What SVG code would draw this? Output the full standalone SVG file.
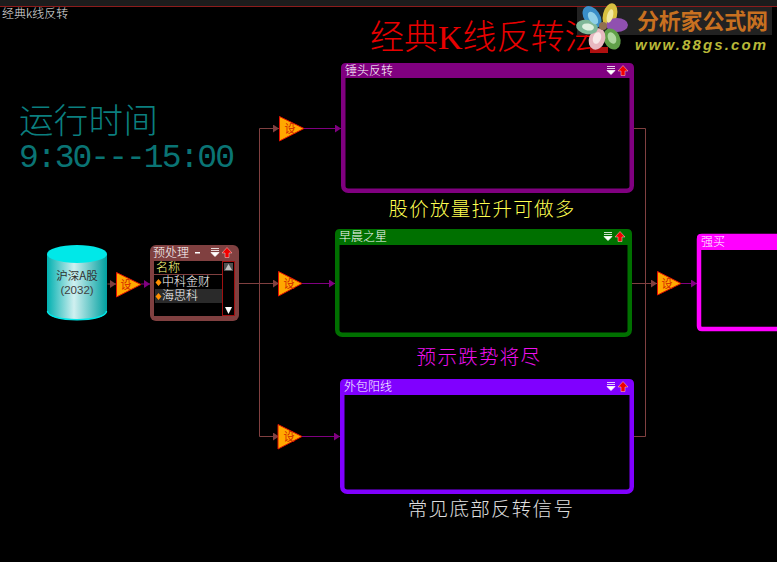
<svg xmlns="http://www.w3.org/2000/svg" width="777" height="562" viewBox="0 0 777 562">
<style>
text{font-family:"Noto Sans CJK SC","Liberation Sans",sans-serif}
.hd{font-size:12px;fill:#fff;font-weight:300}
.tri{fill:#ffa800;stroke:#e01000;stroke-width:1}
.s{font-size:11px;fill:#d02000;text-anchor:middle}
.cap{font-size:19.500px;letter-spacing:1.300px;text-anchor:middle;font-weight:300}
.br{stroke:#804040;fill:none}
.pu{stroke:#800080;fill:none}
.li{font-size:12px;fill:#fff;font-weight:300}
</style>
<defs>
<linearGradient id="cyl" x1="0" x2="1" y1="0" y2="0"><stop offset="0" stop-color="#00b0b0"/><stop offset=".45" stop-color="#d0f0f0"/><stop offset="1" stop-color="#00a0a0"/></linearGradient>
<marker id="ab" markerWidth="6" markerHeight="8" refX="6" refY="4" orient="auto" markerUnits="userSpaceOnUse"><path d="M0 0L6 4L0 8Z" fill="#804040"/></marker>
<marker id="ap" markerWidth="6" markerHeight="8" refX="6" refY="4" orient="auto" markerUnits="userSpaceOnUse"><path d="M0 0L6 4L0 8Z" fill="#800080"/></marker>
<g id="icons"><path d="M-4 -4.500H4M-4 -2.500H4M-4 -0.500H4L0 3.500Z" fill="#fff" stroke="#fff" stroke-width=".8"/><path d="M12 -5.500L17 0H14V4.500H10V0H7Z" fill="#f00000" stroke="#ffd0d0" stroke-width=".5"/></g>
</defs>
<rect width="777" height="562" fill="#000"/>
<rect width="777" height="6" fill="#1c1c1c"/>
<rect y="6" width="777" height="1" fill="#8c1c1c"/>
<text x="2" y="18" font-size="12" fill="#e0e0e0" font-weight="300">经典k线反转</text>
<text x="370" y="49" font-size="34" fill="#e80000" font-weight="300">经典<tspan style="font-family:'Liberation Serif',serif">K</tspan>线反转法</text>
<text x="19" y="133" font-size="34.500" fill="#0b7f7f" font-weight="300" letter-spacing=".3">运行时间</text>
<text x="19" y="167" font-size="33" fill="#0a7474" style="font-family:'Liberation Mono',monospace" textLength="216">9:30---15:00</text>

<g id="connectors">
<path class="br" d="M107.500 284H116" marker-end="url(#ab)"/>
<path class="pu" d="M141 284H150" marker-end="url(#ap)"/>
<path class="br" d="M239 283.500H279" marker-end="url(#ab)"/>
<path class="br" d="M259.500 436.500V128.500H279" marker-end="url(#ab)"/>
<path class="br" d="M259.500 436.500H279" marker-end="url(#ab)"/>
<path class="pu" d="M303 128.500H341" marker-end="url(#ap)"/>
<path class="pu" d="M302 283.500H335" marker-end="url(#ap)"/>
<path class="pu" d="M302 436.500H340" marker-end="url(#ap)"/>
<path class="br" d="M634 128.500H645.500V436.500H634"/>
<path class="br" d="M632 283.500H657" marker-end="url(#ab)"/>
<path class="pu" d="M681 283.500H697" marker-end="url(#ap)"/>
</g>

<g id="db">
<path d="M47 254V311C47 323 107 323 107 311V254Z" fill="url(#cyl)"/>
<path d="M47.500 311C47.500 322.500 106.500 322.500 106.500 311" fill="none" stroke="#00e8e8" stroke-width="1.500"/>
<ellipse cx="77" cy="254" rx="30" ry="9" fill="#00e8e8"/>
<text x="77" y="280" font-size="11.500" fill="#303030" text-anchor="middle">沪深A股</text>
<text x="77" y="294" font-size="11.500" fill="#404040" text-anchor="middle" style="font-family:'Liberation Sans',sans-serif">(2032)</text>
</g>
<g id="gate0"><path class="tri" d="M116.500 272.500L141 284.500L116.500 297Z"/><text class="s" x="126" y="289">设</text></g>
<g id="gate1"><path class="tri" d="M279.500 116.500L304 128.500L279.500 141Z"/><text class="s" x="290" y="133">设</text></g>
<g id="gate2"><path class="tri" d="M278.500 271.500L302 283.500L278.500 296Z"/><text class="s" x="289" y="288">设</text></g>
<g id="gate3"><path class="tri" d="M278 424.500L302 436.500L278 449Z"/><text class="s" x="289" y="441">设</text></g>
<g id="gate4"><path class="tri" d="M657.500 271.500L681 283.500L657.500 295Z"/><text class="s" x="667" y="288">设</text></g>

<g id="pre">
<rect x="150" y="245" width="89" height="76" rx="6" fill="#804040"/>
<rect x="154" y="261" width="68" height="55" fill="#000"/>
<rect x="222.500" y="261.500" width="12" height="54" fill="#000" stroke="#a01010" stroke-width="1"/>
<rect x="155" y="289" width="67" height="14" fill="#2a2a2a"/>
<rect x="154" y="274" width="68" height="1" fill="#804040"/>
<text x="153" y="257" font-size="12" fill="#fff" font-weight="300">预处理</text>
<rect x="195" y="252" width="5" height="1.500" fill="#fff"/>
<use href="#icons" x="215" y="253"/>
<text x="156" y="272" font-size="12" fill="#ffff80" font-weight="300">名称</text>
<path d="M158.500 279L161.500 282.500L158.500 286L155.500 282.500Z M158.500 293L161.500 296.500L158.500 300L155.500 296.500Z" fill="#ff9000"/>
<text class="li" x="162" y="286">中科金财</text>
<text class="li" x="162" y="300">海思科</text>
<rect x="224" y="263" width="9" height="8" fill="#505050"/>
<path d="M228.500 264L232 270H225Z" fill="#c0c0c0"/>
<path d="M228.500 314L232 307H225Z" fill="#fff"/>
</g>

<g id="n1">
<rect x="343.250" y="65.250" width="288.500" height="125.500" rx="5" fill="#000" stroke="#800080" stroke-width="4.500"/>
<path d="M341 78V68Q341 63 346 63H629Q634 63 634 68V78Z" fill="#800080"/>
<text class="hd" x="345" y="75">锤头反转</text>
<use href="#icons" x="611" y="71"/>
</g>
<text class="cap" x="482" y="216" fill="#ffff50">股价放量拉升可做多</text>

<g id="n2">
<rect x="337.250" y="231.250" width="292.500" height="103.500" rx="5" fill="#000" stroke="#007000" stroke-width="4.500"/>
<path d="M335 245V234Q335 229 340 229H627Q632 229 632 234V245Z" fill="#007000"/>
<text class="hd" x="339" y="241">早晨之星</text>
<use href="#icons" x="608" y="237"/>
</g>
<text class="cap" x="479" y="364" fill="#f010f0">预示跌势将尽</text>

<g id="n3">
<rect x="342.250" y="381.250" width="289.500" height="110.500" rx="5" fill="#000" stroke="#8000ff" stroke-width="4.500"/>
<path d="M340 395V384Q340 379 345 379H629Q634 379 634 384V395Z" fill="#8000ff"/>
<text class="hd" x="344" y="391">外包阳线</text>
<use href="#icons" x="611" y="387"/>
</g>
<text class="cap" x="491" y="516" fill="#e0e0e0">常见底部反转信号</text>

<g id="n4">
<path d="M777 236H702Q699 236 699 239V326Q699 329 702 329H777" fill="#000" stroke="#ff00ff" stroke-width="4.500"/>
<path d="M697 250V238Q697 234 701 234H777V250Z" fill="#ff00ff"/>
<text class="hd" x="701" y="246">强买</text>
</g>

<rect x="577" y="7" width="195" height="28" fill="#222"/>
<rect x="590" y="47" width="18" height="6" fill="#b01010"/>
<ellipse cx="592" cy="17" rx="8" ry="12" transform="rotate(-35 592 17)" fill="#3a8ec8"/>
<ellipse cx="610" cy="15" rx="7" ry="12" transform="rotate(15 610 15)" fill="#d8c040"/>
<ellipse cx="617" cy="25" rx="11" ry="7" fill="#9050b0"/>
<ellipse cx="612" cy="39" rx="8" ry="11" transform="rotate(-25 612 39)" fill="#60a048"/>
<ellipse cx="597" cy="39" rx="8" ry="11" transform="rotate(20 597 39)" fill="#e8b8c0"/>
<ellipse cx="587" cy="27" rx="11" ry="7" transform="rotate(10 587 27)" fill="#80b898"/>
<ellipse cx="593" cy="18" rx="4" ry="7" transform="rotate(-35 593 18)" fill="#90d0e8"/>
<ellipse cx="610" cy="16" rx="3" ry="7" transform="rotate(15 610 16)" fill="#f0e8a0"/>
<ellipse cx="612" cy="38" rx="4" ry="6" transform="rotate(-25 612 38)" fill="#b0d8a0"/>
<ellipse cx="597" cy="38" rx="4" ry="6" transform="rotate(20 597 38)" fill="#f8e8e8"/>
<ellipse cx="588" cy="27" rx="6" ry="3.500" transform="rotate(10 588 27)" fill="#e0f0e0"/>
<circle cx="603" cy="26" r="4" fill="#907050"/>
<text x="637" y="29" font-size="22" font-weight="700" fill="#c87020" textLength="131">分析家公式网</text>
<text x="635" y="50" font-size="15" font-weight="700" font-style="italic" fill="#b8b838" style="font-family:'Liberation Sans',sans-serif" textLength="131">www.88gs.com</text>
</svg>
